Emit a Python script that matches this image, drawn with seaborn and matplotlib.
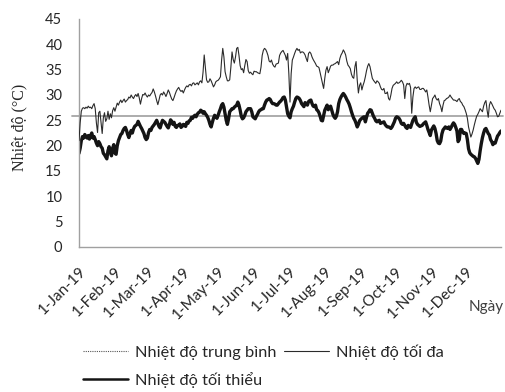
import matplotlib
matplotlib.use("Agg")
import matplotlib.pyplot as plt
from matplotlib.lines import Line2D
import pandas as pd
import seaborn as sns

# ---------------- data ----------------
max_jan = [21.0, 24.5, 26.8, 27.4, 27.5, 27.3, 27.6, 27.4, 27.8, 27.5, 27.6, 27.3, 27.9, 28.3, 27.3,
           24.5, 22.6, 26.5, 26.8, 24.5, 22.4, 25.5, 26.5, 24.8, 25.3, 26.8, 25.2, 26.3, 25.5, 26.9, 27.5]
max_feb = [26.8, 27.6, 28.4, 28.0, 28.6, 29.0, 28.5, 28.9, 29.2, 28.6, 28.9, 29.1, 29.6, 29.4,
           30.0, 29.6, 29.3, 29.8, 30.1, 29.7, 30.3, 29.4, 28.2, 29.3, 30.1, 30.0, 30.4, 29.9]
max_mar = [29.6, 30.0, 29.8, 30.2, 30.5, 31.2, 30.6, 29.8, 28.9, 28.1, 29.0, 30.0, 30.3, 30.0, 30.6,
           30.2, 29.7, 30.3, 31.0, 30.5, 29.8, 29.2, 28.9, 29.5, 30.2, 30.8, 31.2, 31.5, 31.0, 30.7, 30.9]
max_apr = [30.4, 31.0, 31.5, 31.8, 31.6, 32.0, 32.1, 31.8, 32.3, 32.4, 32.0, 32.2, 32.4, 32.0, 32.6,
           32.8, 32.4, 34.5, 37.9, 35.5, 33.0, 32.5, 32.6, 33.2, 32.8, 32.2, 31.6, 32.0, 32.6, 32.8]
max_may = [32.9, 33.2, 33.6, 36.9, 39.2, 37.5, 34.6, 33.6, 32.8, 32.8, 33.0, 35.5, 38.5, 37.0, 36.3,
           37.5, 39.2, 39.4, 37.8, 35.8, 35.0, 35.2, 34.4, 35.8, 37.0, 36.6, 34.8, 34.3, 34.5, 34.2, 34.0]
max_jun = [34.7, 34.6, 34.6, 34.4, 34.3, 34.2, 35.5, 37.8, 38.8, 39.2, 39.0, 38.5, 37.8, 36.7, 36.5,
           36.9, 36.1, 35.7, 35.5, 36.1, 36.2, 36.3, 37.8, 38.3, 38.6, 38.8, 38.3, 37.8, 36.9, 38.2]
max_jul = [34.2, 28.6, 34.2, 36.9, 37.5, 38.2, 38.8, 39.2, 38.8, 39.0, 38.3, 38.5, 38.5, 38.3, 37.9,
           37.2, 36.6, 38.2, 38.5, 38.2, 37.5, 37.0, 36.6, 36.2, 35.7, 35.6, 35.4, 34.4, 33.3, 32.3, 31.3]
max_aug = [33.3, 34.9, 35.6, 34.4, 35.0, 35.7, 35.9, 35.9, 36.1, 36.2, 36.4, 36.6, 36.0, 37.2, 37.9,
           38.3, 38.9, 38.5, 37.9, 36.7, 35.9, 35.6, 35.2, 34.1, 33.5, 33.3, 35.6, 36.6, 32.9, 30.4, 31.9]
max_sep = [32.4, 31.0, 31.9, 32.6, 33.6, 34.8, 35.7, 36.2, 35.6, 34.4, 33.3, 32.9, 32.6, 32.3, 32.8,
           32.6, 32.3, 31.6, 31.1, 31.0, 31.3, 30.3, 30.3, 30.6, 29.3, 29.0, 30.0, 31.3, 31.9, 32.1]
max_oct = [32.3, 32.6, 32.3, 32.4, 32.6, 32.9, 32.6, 32.0, 29.3, 31.7, 32.3, 32.1, 32.3, 31.5, 26.4,
           29.6, 31.3, 31.6, 31.3, 31.5, 31.6, 31.1, 31.1, 31.3, 31.3, 31.0, 30.6, 31.0, 29.6, 28.0, 26.7]
max_nov = [28.0, 29.3, 29.6, 30.0, 29.3, 29.0, 29.3, 28.3, 27.7, 26.7, 28.0, 28.9, 29.0, 29.3, 29.4,
           29.6, 30.0, 29.6, 29.3, 29.0, 29.0, 28.9, 28.7, 29.1, 29.3, 28.7, 28.5, 28.0, 27.7, 27.1]
max_dec = [26.4, 25.4, 23.7, 22.7, 21.7, 22.3, 23.1, 24.1, 25.0, 25.8, 26.2, 26.7, 27.3, 27.0, 26.7,
           27.8, 28.5, 28.9, 27.0, 25.6, 28.0, 28.7, 28.3, 27.8, 27.3, 27.0, 26.4, 25.7, 25.8, 26.4, 27.0]

min_jan = [18.5, 19.5, 21.0, 21.8, 21.5, 22.2, 21.8, 21.5, 22.0, 21.3, 22.0, 22.5, 21.5, 21.8, 21.2,
           20.5, 20.0, 20.8, 20.4, 19.8, 19.5, 18.5, 18.2, 17.8, 17.4, 19.0, 19.8, 18.8, 18.0, 19.5, 20.2]
min_feb = [18.5, 18.3, 20.0, 21.0, 21.6, 22.2, 22.4, 23.0, 23.4, 23.6, 23.0, 22.2, 21.6, 22.4,
           23.0, 22.5, 23.3, 23.8, 24.0, 24.2, 24.8, 24.3, 23.8, 23.4, 22.9, 22.4, 21.6, 21.2]
min_mar = [21.5, 22.6, 23.2, 23.0, 23.6, 23.9, 24.2, 24.6, 25.0, 24.4, 23.8, 23.5, 24.3, 25.0, 24.8,
           24.6, 24.2, 23.8, 23.5, 24.2, 25.1, 24.8, 24.2, 24.6, 23.8, 23.6, 24.0, 24.0, 24.3, 23.6, 23.8]
min_apr = [24.2, 24.0, 23.8, 24.6, 24.4, 24.9, 25.0, 25.6, 25.4, 25.8, 26.0, 25.7, 26.2, 26.5, 26.6,
           27.0, 26.8, 26.4, 26.7, 26.3, 26.0, 25.6, 25.0, 24.2, 23.7, 24.6, 25.4, 26.0, 25.7, 25.4]
min_may = [26.0, 26.7, 27.3, 28.0, 28.3, 27.6, 26.3, 25.0, 24.2, 25.3, 26.7, 27.0, 27.3, 27.3, 27.6,
           27.8, 28.0, 28.6, 28.0, 27.0, 25.8, 25.3, 25.5, 26.0, 26.7, 27.0, 27.3, 27.3, 27.3, 26.7, 25.7]
min_jun = [25.5, 25.3, 25.8, 26.2, 26.7, 27.0, 27.1, 27.3, 27.3, 28.0, 28.6, 29.0, 29.1, 29.3, 29.1,
           28.6, 28.3, 28.3, 28.2, 28.0, 28.0, 28.3, 28.6, 28.8, 29.1, 29.5, 29.6, 29.0, 27.6, 26.3]
min_jul = [25.8, 25.5, 26.7, 27.3, 27.8, 28.6, 29.3, 29.6, 29.5, 29.3, 28.9, 28.3, 28.0, 27.7, 28.5,
           28.3, 28.0, 28.7, 28.9, 29.0, 28.3, 27.8, 27.7, 28.0, 27.1, 26.9, 26.5, 25.8, 25.0, 24.9, 26.0]
min_aug = [27.0, 27.5, 28.0, 27.1, 27.5, 27.8, 27.0, 26.2, 25.7, 25.4, 25.8, 26.7, 28.3, 29.1, 29.6,
           30.0, 30.3, 30.0, 29.6, 29.1, 28.7, 28.2, 27.5, 26.7, 26.0, 25.4, 25.0, 24.4, 23.7, 24.2, 24.9]
min_sep = [25.2, 25.4, 25.6, 25.7, 24.7, 25.6, 26.4, 26.7, 27.1, 27.0, 26.4, 25.8, 25.4, 24.9, 24.7,
           24.9, 25.0, 24.4, 24.5, 24.6, 24.7, 24.2, 23.9, 23.7, 23.7, 23.6, 23.4, 23.7, 24.2, 24.7]
min_oct = [25.4, 25.7, 25.6, 25.4, 25.0, 24.4, 24.2, 24.4, 24.0, 23.6, 23.4, 24.0, 23.8, 23.6, 24.3,
           25.0, 25.4, 25.7, 24.6, 24.2, 24.0, 23.8, 23.9, 24.0, 24.3, 24.5, 24.7, 24.0, 23.2, 22.6, 22.0]
min_nov = [23.1, 23.5, 23.9, 23.4, 22.4, 21.0, 20.5, 20.4, 20.9, 22.3, 23.1, 23.4, 23.7, 23.5, 23.4,
           23.7, 23.2, 23.6, 24.1, 24.5, 24.2, 23.6, 22.9, 20.8, 21.2, 23.2, 23.2, 22.7, 22.4, 22.5]
min_dec = [22.4, 21.2, 19.4, 18.6, 18.3, 18.1, 17.9, 17.8, 17.5, 17.0, 16.5, 17.3, 19.0, 20.4, 21.6,
           22.5, 23.2, 23.4, 22.9, 22.4, 22.1, 21.2, 20.8, 20.2, 20.6, 20.5, 21.2, 21.9, 22.2, 22.6, 22.9]

mean_temp = 25.8

month_labels = ["1-Jan-19", "1-Feb-19", "1-Mar-19", "1-Apr-19", "1-May-19", "1-Jun-19",
                "1-Jul-19", "1-Aug-19", "1-Sep-19", "1-Oct-19", "1-Nov-19", "1-Dec-19"]
y_ticks = [0, 5, 10, 15, 20, 25, 30, 35, 40, 45]
series_labels = ["Nhiệt độ trung bình", "Nhiệt độ tối đa", "Nhiệt độ tối thiểu"]
y_title = "Nhiệt độ (°C)"
x_title = "Ngày"

tmax = (max_jan + max_feb + max_mar + max_apr + max_may + max_jun +
        max_jul + max_aug + max_sep + max_oct + max_nov + max_dec)
tmin = (min_jan + min_feb + min_mar + min_apr + min_may + min_jun +
        min_jul + min_aug + min_sep + min_oct + min_nov + min_dec)

df = pd.DataFrame({
    "date": pd.date_range("2019-01-01", periods=len(tmax), freq="D"),
    "tmax": tmax,
    "tmin": tmin,
})

# ---------------- style ----------------
sns.set_theme(style="white")
plt.rcParams["font.family"] = ["Lato", "DejaVu Sans"]

W, H = 505, 392
fig = plt.figure(figsize=(W / 100, H / 100), dpi=100)
ax = fig.add_axes([79 / W, 1 - 247 / H, 422 / W, 228 / H])

mean_c = "#a6a6a6"
max_c = "#2b2b2b"
min_c = "#141414"

ax.axhline(mean_temp, xmin=-0.017, xmax=1.004, color=mean_c, lw=1.3, clip_on=False, zorder=1)
sns.lineplot(data=df, x="date", y="tmax", ax=ax, color=max_c, lw=0.8, zorder=3)
sns.lineplot(data=df, x="date", y="tmin", ax=ax, color=min_c, lw=2.4, zorder=2)

ax.set_xlim(pd.Timestamp("2019-01-01"), pd.Timestamp("2019-12-31"))
ax.set_ylim(0, 45)
ax.set_yticks(y_ticks)
ax.set_yticklabels([str(v) for v in y_ticks], fontsize=10.5, color="#262626")
ticks = pd.date_range("2019-01-01", periods=12, freq="MS")
ax.set_xticks(ticks)
ax.set_xticklabels(month_labels, rotation=45, ha="right", va="top",
                   rotation_mode="anchor", fontsize=11, color="#262626")
ax.tick_params(axis="y", length=0, pad=12)
ax.tick_params(axis="x", length=0, pad=12.5)
ax.set_xlabel("")
ax.set_ylabel("")

for s in ["top", "right"]:
    ax.spines[s].set_visible(False)
for s in ["left", "bottom"]:
    ax.spines[s].set_color("#a0a0a0")
    ax.spines[s].set_linewidth(1.0)

fig.text(19 / W, 1 - 127 / H, y_title, rotation=90, ha="center", va="center",
         fontsize=11.5, family=["Liberation Serif", "DejaVu Serif"], color="#262626")
fig.text(504 / W, 1 - 307 / H, x_title, ha="right", va="center", fontsize=11,
         color="#404040")

handles = [
    Line2D([], [], color="#555555", lw=0.8, linestyle=(0, (1, 1))),
    Line2D([], [], color=min_c, lw=1.8),
    Line2D([], [], color=max_c, lw=0.8),
]
labels = [series_labels[0], series_labels[2], series_labels[1]]
fig.legend(handles, labels, ncol=2, loc="upper left", bbox_to_anchor=(83 / W, 1 - 344 / H),
           frameon=False, fontsize=11.8, handlelength=2.75, handletextpad=0.42,
           columnspacing=0.45, labelspacing=0.74, borderpad=0, borderaxespad=0,
           labelcolor="#262626")

fig.savefig("out.png", dpi=100)
